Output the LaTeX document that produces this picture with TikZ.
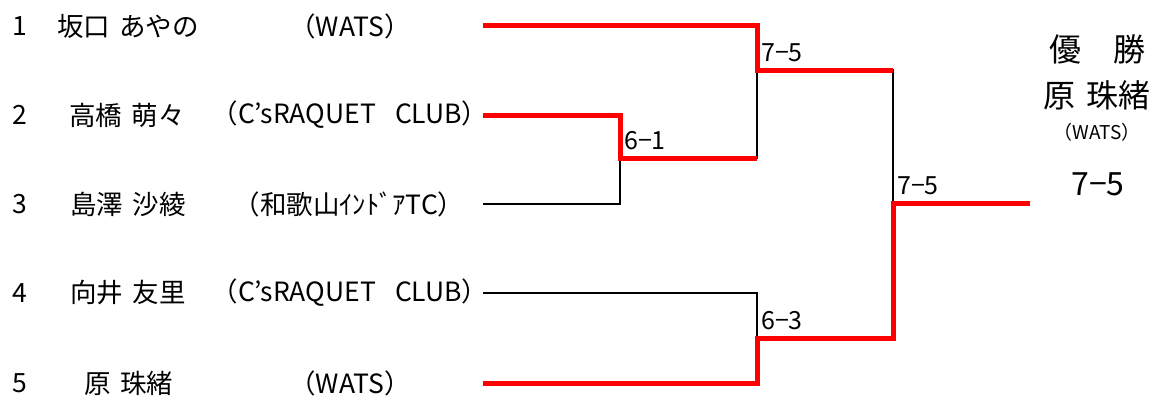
\documentclass[tikz,border=0pt]{standalone}
\usepackage{fontspec}
\setmainfont[WordSpace=1.6]{Noto Sans CJK JP}
\usetikzlibrary{positioning}

\begin{document}
\begin{tikzpicture}[x=1pt, y=-1pt,
  win/.style = {draw=red, line width=5pt},
  lose/.style = {draw=black, line width=2pt},
  player/.style = {font=\fontsize{26.5}{30}\selectfont, inner sep=0pt},
  score/.style = {font=\fontsize{25}{28}\selectfont, anchor=base west, inner sep=0pt, xshift=4pt, yshift=9pt},
  big/.style = {font=\fontsize{32}{36}\selectfont, inner sep=0pt}]

\useasboundingbox (0,0) rectangle (1158,396);

% players
\node[player, anchor=west] (n_1) at (12,26) {1};
\node[player] (a_1) at (128,26) {坂口 あやの};
\node[player] (c_1) at (350,26) {（WATS）};
\node[player, anchor=west] (n_2) at (12,115) {2};
\node[player] (a_2) at (127,115) {高橋 萌々};
\node[player] (c_2) at (350,115) {（C’sRAQUET\ \ CLUB）};
\node[player, anchor=west] (n_3) at (12,204) {3};
\node[player] (a_3) at (128,204) {島澤 沙綾};
\node[player] (c_3) at (349,204) {（和歌山ｲﾝﾄﾞｱTC）};
\node[player, anchor=west] (n_4) at (12,293) {4};
\node[player] (a_4) at (128,293) {向井 友里};
\node[player] (c_4) at (350,293) {（C’sRAQUET\ \ CLUB）};
\node[player, anchor=west] (n_5) at (12,383) {5};
\node[player] (a_5) at (129,383) {原 珠緒};
\node[player] (c_5) at (350,383) {（WATS）};

\coordinate (e_1) at (483,26);
\coordinate (e_2) at (483,115);
\coordinate (e_3) at (483,204);
\coordinate (e_4) at (483,293);
\coordinate (e_5) at (483,383);

% matches
\coordinate (m_1) at (620,158);
\coordinate (m_2) at (757,70);
\coordinate (m_3) at (757,338);
\coordinate (m_4) at (893,203);
\coordinate (w) at (1030,203);

\draw[lose] (e_3) -| (m_1);
\draw[lose] (m_1) -| (m_2);
\draw[lose] (m_2) -| (m_4);
\draw[lose] (e_4) -| (m_3);

\draw[win] (e_1) -| (m_2) -- (m_2 -| m_4);
\draw[win] (e_2) -| (m_1) -- (m_1 -| m_2);
\draw[win] (e_5) -| (m_3) -| (m_4) -- (w);

\node[score] (s_1) at (m_1) {6−1};
\node[score] (s_2) at (m_2) {7−5};
\node[score] (s_3) at (m_3) {6−3};
\node[score] (s_4) at (m_4) {7−5};

% champion
\node[big] (t) at (1097,49) {優　勝};
\node[big] (champ) at (1097,95) {原 珠緒};
\node[inner sep=0pt, font=\fontsize{19}{22}\selectfont] (club) at (1097,132) {（WATS）};
\node[big] (final) at (1098,184) {7−5};
\end{tikzpicture}
\end{document}
